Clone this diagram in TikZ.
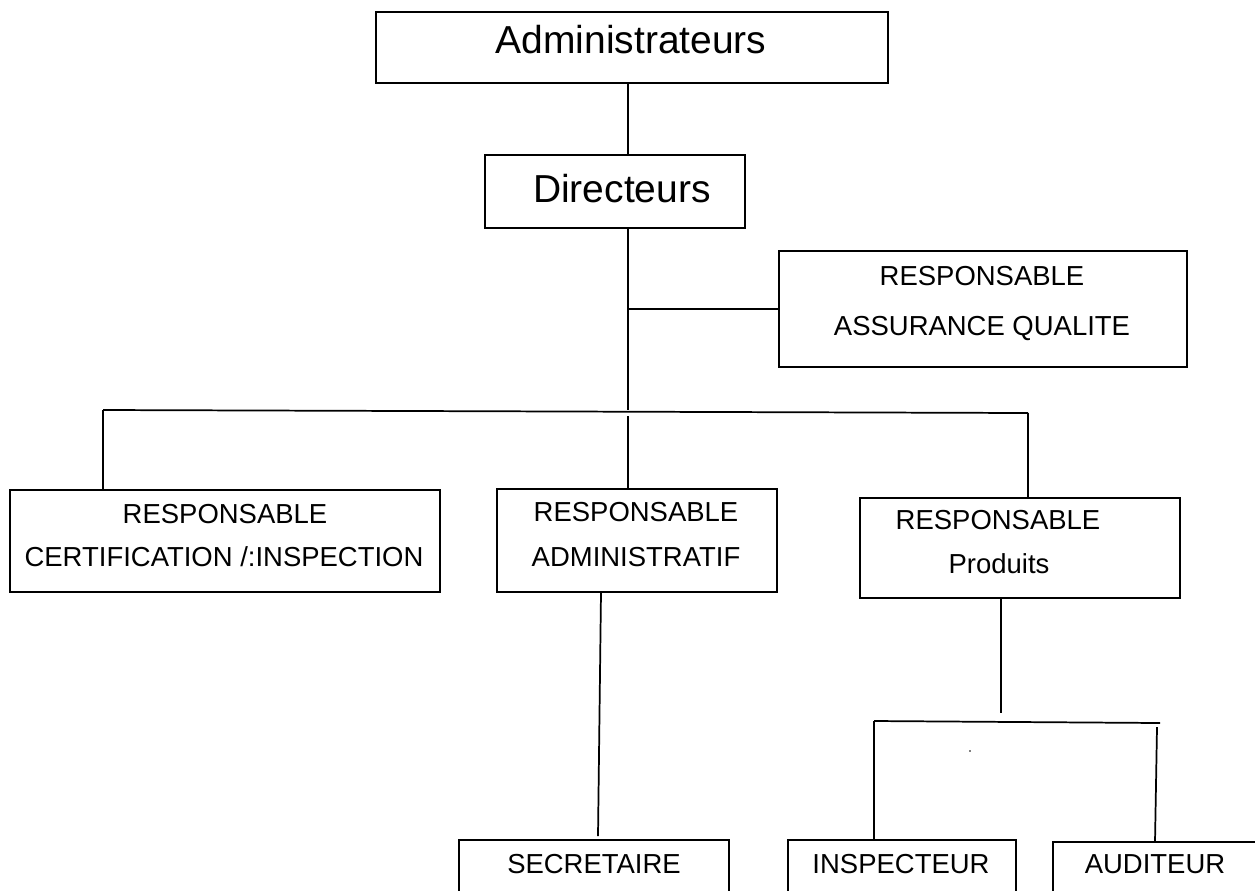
\documentclass[tikz,border=0pt]{standalone}
\usepackage{fontspec}
\setmainfont{Liberation Sans}
\tikzset{
  orgbox/.style={draw=black, line width=1.3pt, inner sep=0pt, outer sep=0pt},
  conn/.style={draw=black, line width=1.3pt},
  bigtxt/.style={anchor=base, inner sep=0pt, font=\fontsize{29.25}{34}\selectfont},
  txt/.style={anchor=base, inner sep=0pt, font=\fontsize{20.6}{24}\selectfont}
}
\begin{document}
\begin{tikzpicture}[x=0.75pt,y=-0.75pt]
\useasboundingbox (0,0) rectangle (1255,890);
\clip (0,0) rectangle (1255,890);
\fill[white] (0,0) rectangle (1255,890);

% boxes
\node[orgbox, minimum width=384pt, minimum height=53.25pt] (admin) at (632,47.5) {};
\node[orgbox, minimum width=195pt, minimum height=54.75pt] (dir) at (615,191.5) {};
\node[orgbox, minimum width=306pt, minimum height=87pt] (raq) at (983,309) {};
\node[orgbox, minimum width=322.5pt, minimum height=76.5pt] (cert) at (225,541) {};
\node[orgbox, minimum width=210pt, minimum height=77.25pt] (adm) at (637,540.5) {};
\node[orgbox, minimum width=240pt, minimum height=75pt] (prod) at (1020,548) {};
\node[orgbox, minimum width=202.5pt, minimum height=52.5pt] (sec) at (594,875) {};
\node[orgbox, minimum width=171pt, minimum height=52.5pt] (insp) at (902,875) {};
\node[orgbox, minimum width=185.25pt, minimum height=52.5pt] (aud) at (1176.5,877) {};

% texts
\node[bigtxt] (tadmin) at (631,53) {Administrateurs};
\node[bigtxt] (tdir) at (622,202) {Directeurs};
\node[txt] (traq1) at (982,285) {RESPONSABLE};
\node[txt] (traq2) at (982,335) {ASSURANCE QUALITE};
\node[txt] (tcert1) at (225,523) {RESPONSABLE};
\node[txt] (tcert2) at (224,566) {CERTIFICATION /:INSPECTION};
\node[txt] (tadm1) at (636,521) {RESPONSABLE};
\node[txt] (tadm2) at (636,566) {ADMINISTRATIF};
\node[txt] (tprod1) at (998,529) {RESPONSABLE};
\node[txt] (tprod2) at (999,573) {Produits};
\node[txt] (tsec) at (594,873) {SECRETAIRE};
\node[txt] (tinsp) at (901,873) {INSPECTEUR};
\node[txt] (taud) at (1155,873) {AUDITEUR};

% connector coordinates
\coordinate (tx) at (628,0);
\coordinate (bus) at (628,410);
\coordinate (busL) at (103,410);
\coordinate (busR) at (1028,413);
\coordinate (busM) at (628,416);
\coordinate (admx) at (601,0);
\coordinate (secTop) at (598,836);
\coordinate (px) at (1001,0);
\coordinate (pbus) at (1001,713);
\coordinate (sbL) at (874,721);
\coordinate (sbR) at (1160,723);
\coordinate (audT) at (1157,727);
\coordinate (audx) at (1155,0);

% connectors
\draw[conn] (admin.south -| tx) -- (dir.north -| tx);
\draw[conn] (dir.south -| tx) -- (bus);
\draw[conn] (raq.west) -- (raq.west -| tx);
\draw[conn] (busL) -- (busR);
\draw[conn] (busL) -- (cert.north -| busL);
\draw[conn] (busM) -- (adm.north -| tx);
\draw[conn] (busR) -- (prod.north -| busR);
\draw[conn] (adm.south -| admx) -- (secTop);
\draw[conn] (prod.south -| px) -- (pbus);
\draw[conn] (sbL) -- (sbR);
\draw[conn] (sbL) -- (insp.north -| sbL);
\draw[conn] (audT) -- (aud.north -| audx);

\fill (970,751) circle (0.6pt);
\end{tikzpicture}
\end{document}
